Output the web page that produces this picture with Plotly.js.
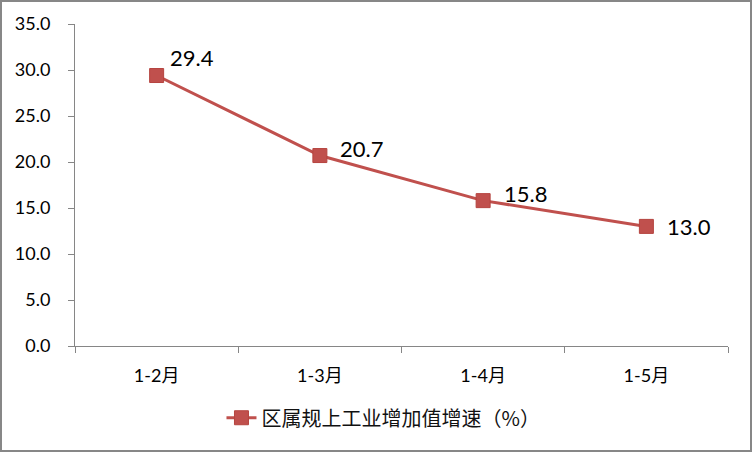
<!DOCTYPE html>
<html>
<head>
<meta charset="utf-8">
<script src="https://cdn.plot.ly/plotly-3.0.1.min.js"></script>
<style>
  html, body { margin: 0; padding: 0; background: #fff; }
  #graph { width: 752px; height: 452px; box-sizing: border-box; border: 2px solid #878787; }
</style>
</head>
<body>
<div id="graph"></div>
<script>
const months = ["1-2月", "1-3月", "1-4月", "1-5月"];
const growth = [29.4, 20.7, 15.8, 13.0];
const seriesName = "区属规上工业增加值增速（%）";

document.addEventListener("DOMContentLoaded", function () {
    const line = {
        name: seriesName,
        x: months,
        y: growth,
        type: "scatter",
        mode: "lines+markers",
        line: { color: "#C0504D", width: 3 },
        marker: { symbol: "square", size: 14, color: "#C0504D", line: { color: "#B5443F", width: 1 } },
        hoverinfo: "x+y",
    };

    // label offsets (px) roughly as placed in the original
    const shifts = [[35, 18], [42, 7], [42, 7], [43, 0]];
    const annotations = months.map(function (m, i) {
        return {
            x: m,
            y: growth[i],
            xref: "x",
            yref: "y",
            text: growth[i].toFixed(1),
            showarrow: false,
            xshift: shifts[i][0],
            yshift: shifts[i][1],
            font: { family: "Lato, 'Noto Sans', sans-serif", size: 22, color: "#000" },
        };
    });

    const layout = {
        width: 748,
        height: 448,
        margin: { l: 73, r: 22, t: 22, b: 104 },
        paper_bgcolor: "#fff",
        plot_bgcolor: "#fff",
        showlegend: true,
        legend: {
            orientation: "h",
            xref: "container",
            yref: "container",
            x: 0.51,
            xanchor: "center",
            y: 0.072,
            yanchor: "middle",
            font: { family: "'Noto Sans CJK SC', sans-serif", size: 20, color: "#111" },
        },
        xaxis: {
            type: "category",
            range: [-0.5, 3.5],
            showline: true,
            linecolor: "#868686",
            linewidth: 1,
            ticks: "outside",
            tickson: "boundaries",
            ticklen: 6,
            tickcolor: "#868686",
            ticklabelstandoff: 13,
            showgrid: false,
            zeroline: false,
            tickfont: { family: "Lato, 'Noto Sans CJK SC', sans-serif", size: 18, color: "#000" },
        },
        yaxis: {
            range: [0, 35],
            dtick: 5,
            tickformat: ".1f",
            showline: true,
            linecolor: "#868686",
            linewidth: 1,
            ticks: "outside",
            ticklen: 6,
            tickcolor: "#868686",
            ticklabelstandoff: 14,
            showgrid: false,
            zeroline: false,
            tickfont: { family: "Lato, 'Noto Sans', sans-serif", size: 18, color: "#000" },
        },
        annotations: annotations,
    };

    Plotly.newPlot("graph", [line], layout, { displayModeBar: false, staticPlot: true });
});
</script>
</body>
</html>
